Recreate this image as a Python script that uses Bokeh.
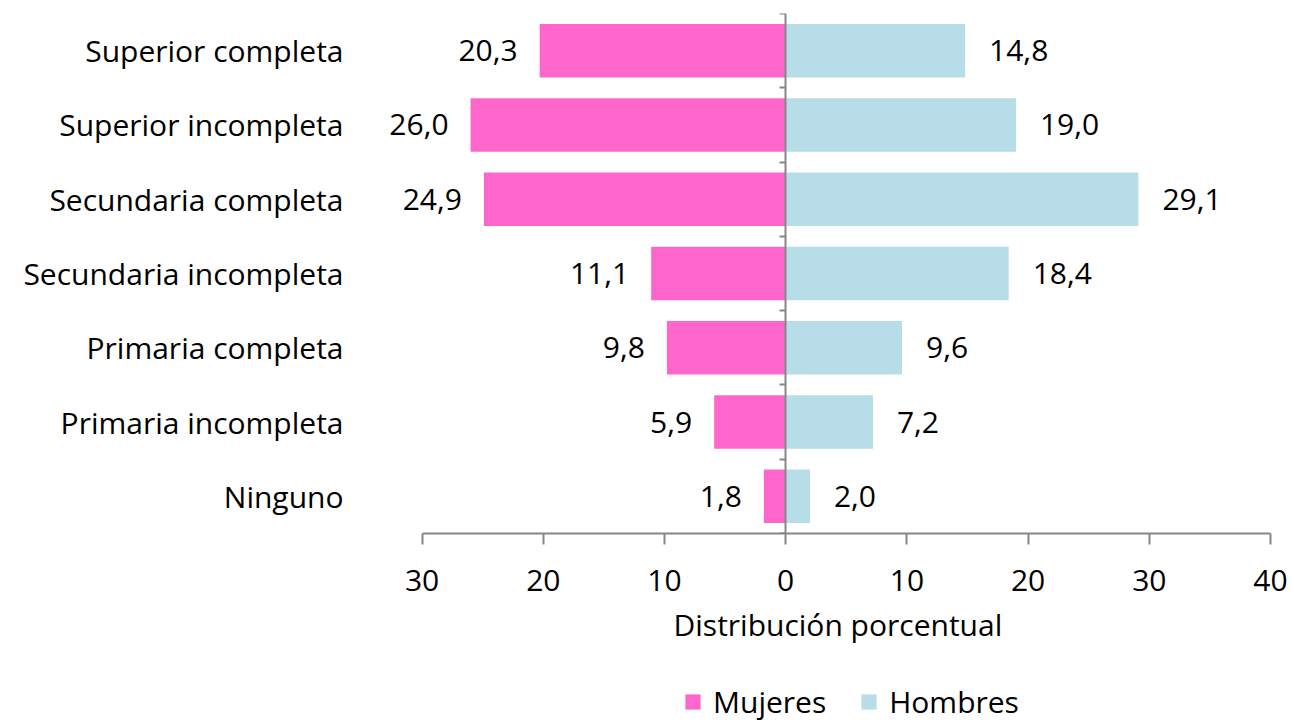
from bokeh.plotting import figure
from bokeh.layouts import column
from bokeh.models import (ColumnDataSource, LinearAxis, FixedTicker, Legend,
                          LegendItem, Range1d, LabelSet, Title)
from bokeh.embed import file_html
from bokeh.resources import INLINE
from bokeh.core.properties import value

categories = ["Superior completa", "Superior incompleta", "Secundaria completa",
              "Secundaria incompleta", "Primaria completa", "Primaria incompleta",
              "Ninguno"]
mujeres = [20.3, 26.0, 24.9, 11.1, 9.8, 5.9, 1.8]
hombres = [14.8, 19.0, 29.1, 18.4, 9.6, 7.2, 2.0]
x_ticks = [-30, -20, -10, 0, 10, 20, 30, 40]
x_tick_labels = ["30", "20", "10", "0", "10", "20", "30", "40"]
series_names = ["Mujeres", "Hombres"]
x_title = "Distribución porcentual"

FONT = "Open Sans"
GRAY = "#868686"
PINK = "#FF66CC"
BLUE = "#B7DDE8"
TXT = "#000000"
FS = "30px"

n = len(categories)
ypos = [n - i - 0.5 for i in range(n)]

def fmt(v):
    return f"{v:.1f}".replace(".", ",")

src = ColumnDataSource(dict(
    y=ypos,
    muj_left=[-v for v in mujeres],
    hom_right=hombres,
    muj_lab=[fmt(v) for v in mujeres],
    hom_lab=[fmt(v) for v in hombres],
))

W = 1290
LEFT = 361
p = figure(width=W, height=670, x_range=Range1d(-35, 40), y_range=Range1d(0, n),
           output_backend="svg", toolbar_location=None,
           x_axis_location=None, y_axis_location=None,
           min_border_left=LEFT, min_border_right=20, min_border_top=13,
           min_border_bottom=137, outline_line_color=None)
p.xgrid.visible = False
p.ygrid.visible = False

r_m = p.hbar(y="y", left="muj_left", right=0, height=0.72, source=src,
             fill_color=PINK, line_color=None)
r_h = p.hbar(y="y", left=0, right="hom_right", height=0.72, source=src,
             fill_color=BLUE, line_color=None)

p.add_layout(LabelSet(x="muj_left", y="y", text="muj_lab", source=src, x_offset=-22,
                      text_align="right", text_baseline="middle", text_font=value(FONT),
                      text_font_size=FS, text_color=TXT))
p.add_layout(LabelSet(x="hom_right", y="y", text="hom_lab", source=src, x_offset=24,
                      text_align="left", text_baseline="middle", text_font=value(FONT),
                      text_font_size=FS, text_color=TXT))

# category labels
cat_axis = LinearAxis(ticker=FixedTicker(ticks=ypos),
                      major_label_overrides={y: c for y, c in zip(ypos, categories)},
                      axis_line_color=None, major_tick_line_color=None,
                      major_tick_out=0, major_tick_in=0,
                      minor_tick_line_color=None, major_label_standoff=18,
                      major_label_text_font=FONT, major_label_text_font_size=FS,
                      major_label_text_color=TXT)
p.add_layout(cat_axis, "left")

# vertical axis at zero
zero_axis = LinearAxis(fixed_location=0, ticker=FixedTicker(ticks=list(range(n + 1))),
                       bounds=(0, n),
                       major_label_overrides={i: "" for i in range(n + 1)},
                       major_label_text_font_size="0px", major_label_standoff=0,
                       axis_line_color=GRAY, axis_line_width=2,
                       major_tick_line_color=GRAY, major_tick_line_width=2,
                       major_tick_in=6, major_tick_out=0, minor_tick_line_color=None)
p.add_layout(zero_axis, "right")

# bottom axis
x_axis = LinearAxis(ticker=FixedTicker(ticks=x_ticks), bounds=(x_ticks[0], x_ticks[-1]),
                    major_label_overrides=dict(zip(x_ticks, x_tick_labels)),
                    major_label_text_font=FONT, major_label_text_font_size=FS,
                    major_label_text_color=TXT, major_label_standoff=25,
                    axis_line_color=GRAY, axis_line_width=2,
                    major_tick_line_color=GRAY, major_tick_line_width=2,
                    major_tick_out=11, major_tick_in=0, minor_tick_line_color=None)
p.add_layout(x_axis, "below")

# axis title, centred under the drawn axis extent
p.add_layout(Title(text=x_title, align="left", offset=312, standoff=16,
                   text_font=FONT, text_font_size=FS, text_font_style="normal",
                   text_color=TXT), "below")

# legend in a strip figure below (zero-height bars out of view, used only as legend glyphs)
pl = figure(width=W, height=52, x_range=Range1d(100, 200), y_range=Range1d(100, 101),
            output_backend="svg", toolbar_location=None,
            x_axis_location=None, y_axis_location=None,
            min_border_left=LEFT, min_border_right=20, min_border_top=0,
            min_border_bottom=0, outline_line_color=None)
pl.xgrid.visible = False
pl.ygrid.visible = False
d_m = pl.hbar(y="y", left="muj_left", right=0, height=0, source=src,
              fill_color=PINK, line_color=None)
d_h = pl.hbar(y="y", left=0, right="hom_right", height=0, source=src,
              fill_color=BLUE, line_color=None)
legend = Legend(items=[LegendItem(label=series_names[0], renderers=[d_m]),
                       LegendItem(label=series_names[1], renderers=[d_h])],
                orientation="horizontal", location=(322, 0),
                glyph_width=19, glyph_height=19, label_standoff=11, spacing=33,
                label_text_font=FONT, label_text_font_size=FS, label_text_color=TXT,
                border_line_color=None, background_fill_alpha=0,
                padding=0, margin=0)
pl.add_layout(legend)

layout = column(p, pl, spacing=0)
open("out.html", "w").write(file_html(layout, INLINE))
